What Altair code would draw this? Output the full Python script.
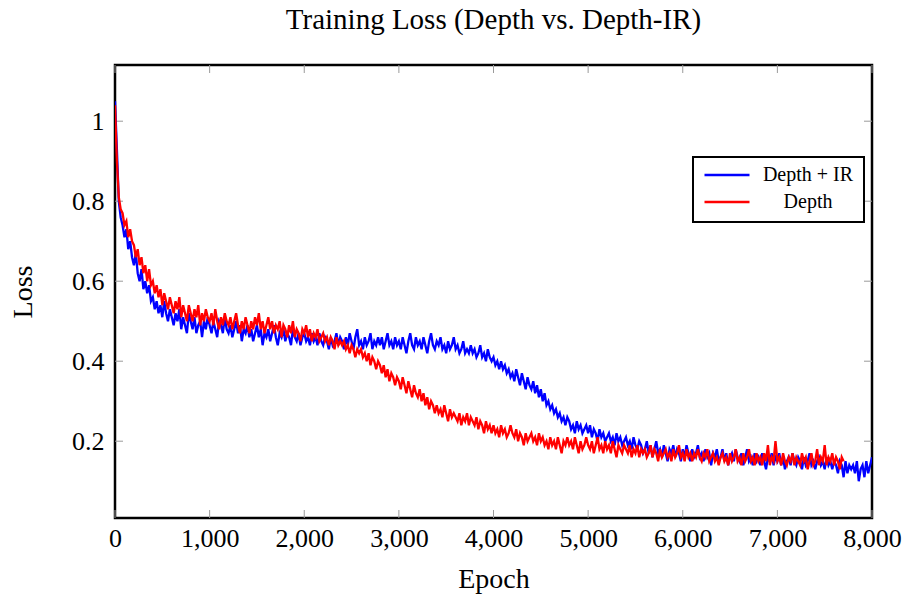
import altair as alt
import pandas as pd

title_text = "Training Loss (Depth vs. Depth-IR)"
series_names = ["Depth + IR", "Depth"]
series_colors = ["#0000ff", "#ff0000"]
epoch_step = 20

# Depth + IR loss, every 20 epochs from 0 to 8000
depth_ir_loss = [
    1.05, 0.93, 0.80, 0.76, 0.74, 0.71, 0.73, 0.68, 0.70, 0.66,
    0.64, 0.67, 0.62, 0.60, 0.63, 0.58, 0.60, 0.57, 0.59, 0.55,
    0.56, 0.53, 0.55, 0.52, 0.54, 0.51, 0.55, 0.52, 0.50, 0.53,
    0.51, 0.49, 0.52, 0.50, 0.53, 0.48, 0.51, 0.49, 0.47, 0.52,
    0.50, 0.48, 0.51, 0.47, 0.49, 0.50, 0.46, 0.50, 0.48, 0.51,
    0.49, 0.47, 0.50, 0.48, 0.46, 0.50, 0.49, 0.47, 0.51, 0.48,
    0.47, 0.49, 0.46, 0.48, 0.50, 0.47, 0.49, 0.45, 0.48, 0.47,
    0.49, 0.46, 0.48, 0.45, 0.47, 0.49, 0.46, 0.48, 0.44, 0.47,
    0.46, 0.48, 0.45, 0.47, 0.49, 0.46, 0.44, 0.47, 0.46, 0.48,
    0.45, 0.47, 0.46, 0.44, 0.48, 0.46, 0.45, 0.47, 0.44, 0.46,
    0.47, 0.45, 0.46, 0.44, 0.47, 0.45, 0.46, 0.44, 0.47, 0.45,
    0.44, 0.46, 0.45, 0.43, 0.46, 0.44, 0.45, 0.47, 0.44, 0.46,
    0.45, 0.43, 0.46, 0.44, 0.47, 0.45, 0.43, 0.46, 0.48, 0.44,
    0.45, 0.43, 0.46, 0.44, 0.45, 0.47, 0.43, 0.45, 0.44, 0.46,
    0.44, 0.46, 0.43, 0.45, 0.47, 0.44, 0.45, 0.43, 0.46, 0.44,
    0.45, 0.43, 0.46, 0.44, 0.42, 0.45, 0.47, 0.44, 0.43, 0.46,
    0.44, 0.45, 0.43, 0.46, 0.44, 0.42, 0.45, 0.47, 0.44, 0.43,
    0.45, 0.44, 0.46, 0.43, 0.44, 0.42, 0.45, 0.43, 0.44, 0.46,
    0.43, 0.44, 0.42, 0.43, 0.45, 0.42, 0.43, 0.42, 0.44, 0.42,
    0.43, 0.41, 0.42, 0.44, 0.41, 0.42, 0.40, 0.43, 0.41, 0.40,
    0.41, 0.39, 0.40, 0.38, 0.40, 0.38, 0.39, 0.37, 0.38, 0.36,
    0.37, 0.35, 0.38, 0.36, 0.34, 0.37, 0.35, 0.33, 0.36, 0.34,
    0.33, 0.35, 0.32, 0.34, 0.31, 0.33, 0.30, 0.32, 0.29, 0.30,
    0.28, 0.29, 0.27, 0.28, 0.26, 0.27, 0.25, 0.26, 0.24, 0.26,
    0.25, 0.23, 0.24, 0.22, 0.25, 0.23, 0.24, 0.22, 0.23, 0.24,
    0.22, 0.24, 0.21, 0.23, 0.22, 0.20, 0.23, 0.21, 0.22, 0.20,
    0.21, 0.22, 0.20, 0.21, 0.19, 0.22, 0.20, 0.21, 0.19, 0.20,
    0.21, 0.19, 0.20, 0.18, 0.21, 0.19, 0.18, 0.20, 0.19, 0.17,
    0.18, 0.20, 0.17, 0.19, 0.16, 0.18, 0.20, 0.17, 0.18, 0.16,
    0.19, 0.17, 0.15, 0.18, 0.17, 0.19, 0.16, 0.18, 0.17, 0.15,
    0.18, 0.16, 0.19, 0.17, 0.15, 0.18, 0.16, 0.17, 0.19, 0.16,
    0.17, 0.15, 0.18, 0.16, 0.17, 0.14, 0.17, 0.16, 0.18, 0.15,
    0.16, 0.18, 0.15, 0.17, 0.14, 0.16, 0.17, 0.15, 0.18, 0.16,
    0.15, 0.17, 0.14, 0.16, 0.18, 0.15, 0.16, 0.14, 0.17, 0.15,
    0.16, 0.14, 0.17, 0.15, 0.13, 0.16, 0.15, 0.17, 0.14, 0.16,
    0.15, 0.17, 0.14, 0.16, 0.13, 0.15, 0.16, 0.14, 0.17, 0.15,
    0.14, 0.16, 0.15, 0.13, 0.16, 0.14, 0.15, 0.17, 0.14, 0.15,
    0.13, 0.15, 0.16, 0.14, 0.15, 0.13, 0.16, 0.14, 0.15, 0.13,
    0.15, 0.14, 0.12, 0.15, 0.14, 0.11, 0.15, 0.12, 0.14, 0.13,
    0.14, 0.12, 0.15, 0.10, 0.13, 0.14, 0.11, 0.15, 0.12, 0.14,
    0.16,
]

# Depth loss, every 20 epochs from 0 to 7700
depth_loss = [
    1.04, 0.90, 0.81, 0.78, 0.77, 0.74, 0.75, 0.71, 0.73, 0.70,
    0.69, 0.66, 0.68, 0.64, 0.66, 0.62, 0.64, 0.60, 0.63, 0.59,
    0.60, 0.57, 0.59, 0.56, 0.58, 0.54, 0.57, 0.55, 0.53, 0.56,
    0.54, 0.52, 0.55, 0.53, 0.56, 0.51, 0.54, 0.52, 0.50, 0.54,
    0.52, 0.50, 0.53, 0.51, 0.54, 0.49, 0.52, 0.50, 0.53, 0.51,
    0.50, 0.52, 0.49, 0.53, 0.50, 0.48, 0.51, 0.49, 0.52, 0.50,
    0.49, 0.51, 0.48, 0.50, 0.52, 0.49, 0.47, 0.50, 0.48, 0.51,
    0.49, 0.47, 0.50, 0.48, 0.51, 0.49, 0.52, 0.48, 0.50, 0.47,
    0.49, 0.51, 0.48, 0.50, 0.47, 0.49, 0.48, 0.50, 0.46, 0.49,
    0.48, 0.46, 0.49, 0.47, 0.50, 0.46, 0.48, 0.47, 0.45, 0.48,
    0.47, 0.49, 0.46, 0.48, 0.45, 0.47, 0.46, 0.48, 0.45, 0.46,
    0.47, 0.45, 0.46, 0.44, 0.46, 0.45, 0.43, 0.46, 0.44, 0.45,
    0.44, 0.45, 0.43, 0.44, 0.42, 0.44, 0.43, 0.41, 0.43, 0.42,
    0.43, 0.41, 0.42, 0.40, 0.42, 0.39, 0.41, 0.40, 0.38, 0.40,
    0.39, 0.37, 0.39, 0.36, 0.38, 0.35, 0.37, 0.36, 0.34, 0.36,
    0.35, 0.33, 0.36, 0.34, 0.32, 0.35, 0.33, 0.31, 0.34, 0.32,
    0.31, 0.33, 0.30, 0.32, 0.29, 0.31, 0.28, 0.30, 0.29, 0.27,
    0.29, 0.27, 0.28, 0.26, 0.29, 0.27, 0.25, 0.28, 0.26, 0.27,
    0.26, 0.25, 0.27, 0.24, 0.26, 0.25, 0.27, 0.24, 0.26, 0.25,
    0.24, 0.26, 0.23, 0.25, 0.24, 0.22, 0.25, 0.23, 0.24, 0.22,
    0.24, 0.22, 0.23, 0.21, 0.24, 0.22, 0.23, 0.21, 0.22, 0.24,
    0.22, 0.21, 0.23, 0.20, 0.22, 0.21, 0.19, 0.22, 0.20, 0.21,
    0.22, 0.20, 0.21, 0.19, 0.22, 0.20, 0.21, 0.19, 0.20, 0.18,
    0.21, 0.19, 0.20, 0.18, 0.21, 0.19, 0.17, 0.20, 0.19, 0.21,
    0.19, 0.20, 0.18, 0.21, 0.19, 0.17, 0.20, 0.18, 0.19, 0.21,
    0.19, 0.18, 0.20, 0.17, 0.19, 0.21, 0.18, 0.19, 0.17, 0.20,
    0.18, 0.19, 0.17, 0.20, 0.18, 0.16, 0.19, 0.18, 0.17, 0.19,
    0.18, 0.17, 0.19, 0.16, 0.18, 0.17, 0.19, 0.16, 0.18, 0.17,
    0.18, 0.16, 0.17, 0.19, 0.16, 0.18, 0.17, 0.15, 0.18, 0.16,
    0.17, 0.18, 0.16, 0.17, 0.15, 0.18, 0.16, 0.17, 0.19, 0.16,
    0.17, 0.15, 0.18, 0.16, 0.17, 0.15, 0.17, 0.16, 0.18, 0.16,
    0.15, 0.17, 0.16, 0.18, 0.15, 0.16, 0.17, 0.15, 0.16, 0.14,
    0.16, 0.17, 0.15, 0.16, 0.14, 0.17, 0.15, 0.16, 0.18, 0.15,
    0.16, 0.14, 0.17, 0.15, 0.16, 0.18, 0.15, 0.16, 0.14, 0.17,
    0.15, 0.16, 0.14, 0.17, 0.15, 0.19, 0.14, 0.16, 0.15, 0.20,
    0.15, 0.16, 0.14, 0.17, 0.15, 0.14, 0.16, 0.15, 0.17, 0.14,
    0.16, 0.15, 0.14, 0.17, 0.15, 0.16, 0.13, 0.15, 0.17, 0.14,
    0.15, 0.18, 0.14, 0.16, 0.15, 0.19, 0.14, 0.16, 0.15, 0.17,
    0.14, 0.16, 0.15, 0.13, 0.16, 0.15,
]

x_ticks = [0, 1000, 2000, 3000, 4000, 5000, 6000, 7000, 8000]
y_ticks = [0.2, 0.4, 0.6, 0.8, 1.0]
x_domain = [0, 8000]
y_domain = [0.008, 1.1405]

rows = []
for name, vals in zip(series_names, [depth_ir_loss, depth_loss]):
    for i, v in enumerate(vals):
        rows.append({"epoch": i * epoch_step, "loss": v, "series": name})
df = pd.DataFrame(rows)

FONT = "Liberation Serif"
W, H = 757, 453
TICK = 8

xscale = alt.Scale(domain=x_domain, nice=False, zero=False)
yscale = alt.Scale(domain=y_domain, nice=False, zero=False)
x_axis = alt.Axis(values=x_ticks, format=",d", title="Epoch", ticks=False,
                  domain=False, grid=False, labelPadding=7, titlePadding=14,
                  labelFlush=False, labelOverlap=False)
y_axis = alt.Axis(values=y_ticks, format="~g", title="Loss", ticks=False,
                  domain=False, grid=False, labelPadding=11, titlePadding=34,
                  labelOverlap=False)

lines = alt.Chart(df).mark_line(strokeWidth=2.3, clip=True).encode(
    x=alt.X("epoch:Q", scale=xscale, axis=x_axis),
    y=alt.Y("loss:Q", scale=yscale, axis=y_axis),
    color=alt.Color("series:N",
                    scale=alt.Scale(domain=series_names, range=series_colors),
                    sort=series_names,
                    legend=alt.Legend(title=None, orient="none", legendX=578, legendY=92,
                                      symbolType="stroke", symbolSize=2025,
                                      symbolStrokeWidth=2.5, labelFont=FONT,
                                      labelFontSize=20, labelColor="black",
                                      labelAlign="center", labelOffset=57,
                                      padding=10, rowPadding=7,
                                      strokeColor="black", fillColor="white",
                                      clipHeight=16)),
)

xt = pd.DataFrame({"epoch": x_ticks})
yt = pd.DataFrame({"loss": y_ticks})
tick_color = "#9a9a9a"

bottom_ticks = alt.Chart(xt).mark_rule(color=tick_color, strokeWidth=1).encode(
    x=alt.X("epoch:Q", scale=xscale, axis=x_axis), y=alt.value(H), y2=alt.value(H - TICK))
top_ticks = alt.Chart(xt).mark_rule(color=tick_color, strokeWidth=1).encode(
    x=alt.X("epoch:Q", scale=xscale, axis=x_axis), y=alt.value(0), y2=alt.value(TICK))
left_ticks = alt.Chart(yt).mark_rule(color=tick_color, strokeWidth=1).encode(
    y=alt.Y("loss:Q", scale=yscale, axis=y_axis), x=alt.value(0), x2=alt.value(TICK))
right_ticks = alt.Chart(yt).mark_rule(color=tick_color, strokeWidth=1).encode(
    y=alt.Y("loss:Q", scale=yscale, axis=y_axis), x=alt.value(W), x2=alt.value(W - TICK))

chart = alt.layer(bottom_ticks, top_ticks, left_ticks, right_ticks, lines).properties(
    width=W, height=H,
    title=alt.TitleParams(title_text, font=FONT, fontSize=29, fontWeight="normal",
                          color="black", anchor="middle", offset=7, baseline="alphabetic"),
    padding={"left": 115, "top": 65, "right": 35, "bottom": 81},
    autosize=alt.AutoSizeParams(type="none"),
).configure_view(
    stroke="black", strokeWidth=2.5
).configure_axis(
    labelFont=FONT, titleFont=FONT, labelFontSize=26, titleFontSize=28,
    labelColor="black", titleColor="black", titleFontWeight="normal"
).configure_legend(
    strokeWidth=2
)

chart.save("out.html", embed_options={"renderer": "svg", "actions": False})
